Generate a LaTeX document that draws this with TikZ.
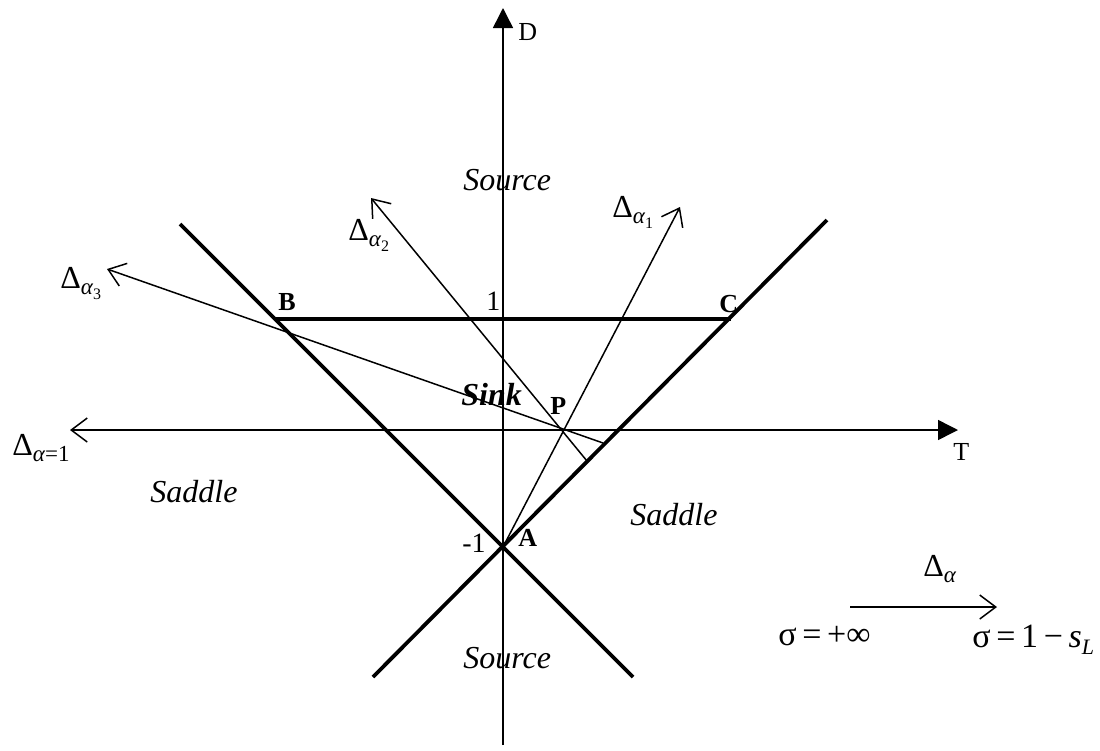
\documentclass[tikz,border=0pt]{standalone}
\usepackage{fontspec}
\setmainfont{Liberation Serif}
\usetikzlibrary{arrows.meta}
\newcommand\dlab[1]{{\fontsize{16}{19}\selectfont Δ}\raisebox{-0.7ex}{\fontsize{11.5}{12}\selectfont\itshape #1}}
\newcommand\ssub[1]{\raisebox{-0.45ex}{\fontsize{8}{8}\selectfont\upshape #1}}
\tikzset{
  thickline/.style={line width=1.9pt},
  thinline/.style={line width=0.75pt},
  axis/.style={line width=0.75pt,-{Triangle[length=10pt,width=10pt]}},
  openarrow/.style={line width=0.75pt,-{Straight Barb[length=8pt,width=12pt,line width=0.75pt]}},
  lbl/.style={inner sep=0pt,anchor=base west},
  region/.style={lbl,font=\fontsize{16}{19}\selectfont\itshape},
  pt/.style={lbl,font=\fontsize{13}{15}\selectfont\bfseries},
  num/.style={lbl,font=\fontsize{14}{16}\selectfont},
  axlab/.style={lbl,font=\fontsize{13}{15}\selectfont},
  sig/.style={lbl,font=\fontsize{17}{20}\selectfont}
}
\begin{document}
\begin{tikzpicture}[x=0.5pt,y=-0.5pt]
\useasboundingbox (0,0) rectangle (1100,751);
% key points
\coordinate (O) at (503,430);
\coordinate (A) at (503,547);
\coordinate (B) at (275,319);
\coordinate (C) at (731,319);
\coordinate (P) at (563,430);
\coordinate (LT) at (180,224);
\coordinate (RT) at (827,220);
\coordinate (LB) at (373,677);
\coordinate (RB) at (633,677);
\coordinate (Dbot) at (503,745);
\coordinate (Dtop) at (503,8);
\coordinate (Tleft) at (70,430);
\coordinate (Tright) at (958,430);
\coordinate (a1end) at (680,207);
\coordinate (a2start) at (587,461);
\coordinate (a2end) at (371,198);
\coordinate (a3start) at (603,443);
\coordinate (a3end) at (107,269);
\coordinate (sgA) at (850,607);
\coordinate (sgB) at (997,607);
% thick lines
\draw[thickline] (LT) -- (RB);
\draw[thickline] (RT) -- (LB);
\draw[thickline] (B) -- (C);
% axes
\draw[axis] (Dbot) -- (Dtop);
\draw[axis] (O) -- (Tright);
\draw[openarrow] (O) -- (Tleft);
% rays
\draw[openarrow] (A) -- (a1end);
\draw[openarrow] (a2start) -- (a2end);
\draw[openarrow] (a3start) -- (a3end);
\draw[openarrow] (sgA) -- (sgB);
% labels
\node[axlab] (Dl) at (518,40) {D};
\node[axlab] (Tl) at (953,460) {T};
\node[region] (src1) at (463,190) {Source};
\node[region] (src2) at (463,668) {Source};
\node[region,font=\fontsize{16}{19}\selectfont\bfseries\itshape] (sink) at (461,405) {Sink};
\node[region] (sad1) at (150,502) {Saddle};
\node[region] (sad2) at (630,525) {Saddle};
\node[num] (one) at (486,310) {1};
\node[num] (mone) at (462,552) {-1};
\node[pt] (Al) at (518,546) {A};
\node[pt] (Bl) at (278,310) {B};
\node[pt] (Cl) at (719,312) {C};
\node[pt] (Pl) at (550,414) {P};
\node[lbl] (d3) at (60,288) {\dlab{α\ssub{3}}};
\node[lbl] (d2) at (348,240) {\dlab{α\ssub{2}}};
\node[lbl] (d1) at (612,217) {\dlab{α\ssub{1}}};
\node[lbl] (d0) at (12,455) {\dlab{α\upshape{=}1}};
\node[lbl] (dd) at (923,576) {\dlab{α}};
\node[sig] (s1) at (778,645) {σ\,=\,+∞};
\node[sig] (s2) at (972,647) {σ\,=\,1\,−\,\textit{s}\raisebox{-0.5ex}{\fontsize{11}{11}\selectfont\itshape L}};
\end{tikzpicture}
\end{document}
